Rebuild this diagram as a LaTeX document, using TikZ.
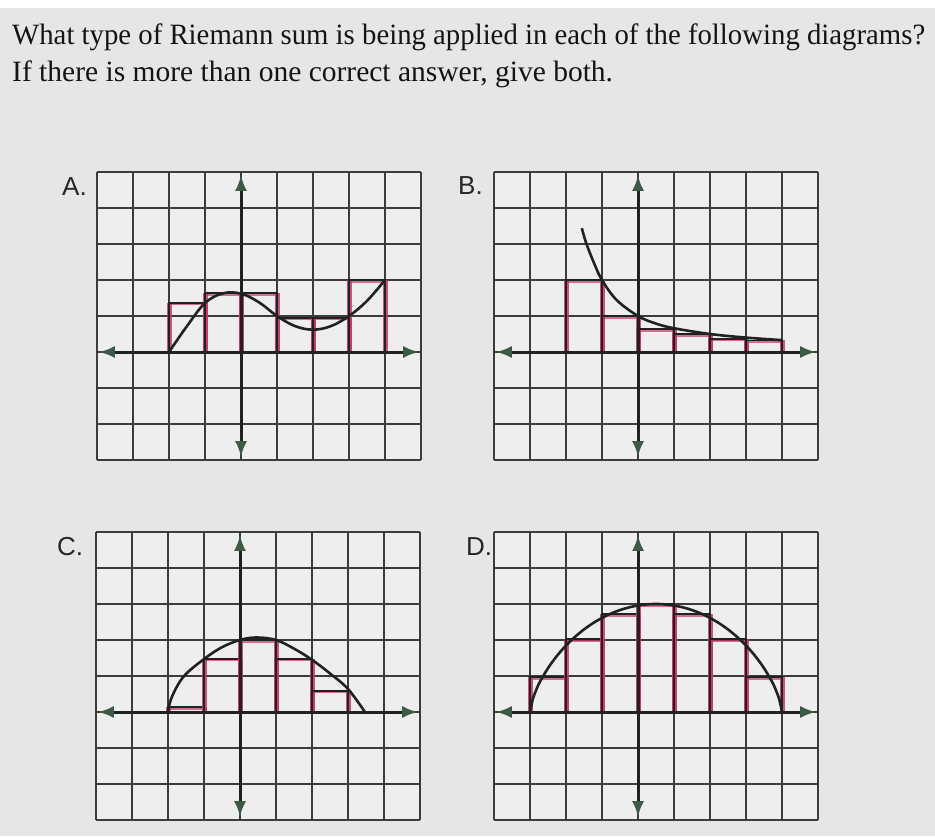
\documentclass[tikz,border=0pt]{standalone}
\usepackage{fontspec}
\setmainfont{Liberation Serif}
\newfontfamily\labelfont{Liberation Sans}
\usetikzlibrary{arrows.meta}
\definecolor{bg}{RGB}{230,230,230}
\definecolor{gridbg}{RGB}{238,238,238}
\definecolor{gridc}{RGB}{60,60,60}
\definecolor{axgreen}{RGB}{60,90,70}
\definecolor{pinkc}{RGB}{200,55,100}
\definecolor{inkc}{RGB}{30,35,32}
\newcommand{\panelgrid}{%
  \fill[gridbg] (-4,-3) rectangle (5,5);
  \foreach \i in {-4,...,5} \draw[gridline] (\i,-3) -- (\i,5);
  \foreach \j in {-3,...,5} \draw[gridline] (-4,\j) -- (5,\j);
}
\newcommand{\panelaxes}{%
  \draw[axisline] (-3.95,0) -- (4.95,0);
  \draw[axisline] (0,-2.92) -- (0,4.92);
}
\newcommand{\rbox}[3]{%
  \draw[rpink] (#1,0) -- (#1,#3);
  \draw[rpink] (#2,0) -- (#2,#3);
  \draw[rpinktop] (#1,#3-0.03) -- (#2,#3-0.03);
  \draw[rdark] (#1,0) rectangle (#2,#3);
}
\begin{document}
\begin{tikzpicture}[x=1pt,y=-1pt,
  gridline/.style={draw=gridc,line width=1.8pt},
  axisline/.style={draw=inkc,line width=3pt,arrows={Latex[length=16pt,width=12pt,color=axgreen]-Latex[length=16pt,width=12pt,color=axgreen]}},
  curveline/.style={draw=inkc,line width=2.6pt},
  rpink/.style={draw=pinkc,line width=5pt,opacity=0.85},
  rpinktop/.style={draw=pinkc,line width=3pt,opacity=0.7},
  rdark/.style={draw=inkc,line width=1.9pt},
  panellabel/.style={font=\labelfont\fontsize{26}{30}\selectfont,anchor=base west,inner sep=0pt,text=black!85},
  title/.style={font=\fontsize{29.5}{34}\selectfont,anchor=base west,inner sep=0pt,text=black!92}]
\fill[white] (0,0) rectangle (935,836);
\fill[bg] (0,8) rectangle (935,836);
\useasboundingbox (0,0) rectangle (935,836);
\node[title] (q1) at (12,44) {\scalebox{0.975}[1]{What type of Riemann sum is being applied in each of the following diagrams?}};
\node[title] (q2) at (12,81) {If there is more than one correct answer, give both.};
\node[panellabel] (la) at (62,195) {A.};
\node[panellabel] (lb) at (458,194) {B.};
\node[panellabel] (lc) at (57,555) {C.};
\node[panellabel] (ld) at (466,555) {D.};
% A
\begin{scope}[shift={(241pt,-352pt)},x=36pt,y=36pt]
  \panelgrid
  \rbox{-2}{-1}{1.37}\rbox{-1}{0}{1.64}\rbox{0}{1}{1.64}
  \rbox{1}{2}{0.95}\rbox{2}{3}{0.95}\rbox{3}{4}{2.0}
  \draw[curveline] plot[smooth,tension=0.6] coordinates {(-2,0) (-1.5,0.72) (-1,1.36) (-0.5,1.63) (0,1.62) (0.5,1.38) (1,1.0) (1.5,0.72) (2,0.62) (2.5,0.72) (3,1.0) (3.5,1.42) (4,2.0)};
  \panelaxes
\end{scope}
% B
\begin{scope}[shift={(638pt,-352pt)},x=36pt,y=36pt]
  \panelgrid
  \rbox{-2}{-1}{2.0}\rbox{-1}{0}{1.0}\rbox{0}{1}{0.63}
  \rbox{1}{2}{0.49}\rbox{2}{3}{0.37}\rbox{3}{4}{0.32}
  \draw[curveline] plot[smooth,tension=0.6] coordinates {(-1.56,3.44) (-1.43,3.0) (-1.2,2.42) (-1,2.0) (-0.6,1.45) (0,1.0) (0.5,0.79) (1,0.66) (2,0.5) (3,0.4) (4,0.33)};
  \panelaxes
\end{scope}
% C
\begin{scope}[shift={(240pt,-712pt)},x=36pt,y=36pt]
  \panelgrid
  \rbox{-2}{-1}{0.14}\rbox{-1}{0}{1.48}\rbox{0}{1}{2.0}
  \rbox{1}{2}{1.48}\rbox{2}{3}{0.59}
  \draw[curveline] plot[smooth,tension=0.6] coordinates {(-2,0) (-1.9,0.4) (-1.57,0.98) (-1,1.47) (-0.5,1.8) (0,2.0) (0.46,2.07) (1,2.0) (1.5,1.76) (2,1.45) (2.5,1.07) (3,0.64) (3.47,0)};
  \panelaxes
\end{scope}
% D
\begin{scope}[shift={(638pt,-712pt)},x=36pt,y=36pt]
  \panelgrid
  \rbox{-3}{-2}{0.96}\rbox{-2}{-1}{2.02}\rbox{-1}{0}{2.72}\rbox{0}{1}{3.0}
  \rbox{1}{2}{2.72}\rbox{2}{3}{2.02}\rbox{3}{4}{0.96}
  \draw[curveline] plot[domain=-3:4,samples=90,smooth] (\x,{3*pow(max(1-((\x-0.5)/3.5)^2,0.0001),0.68)});
  \panelaxes
\end{scope}
\end{tikzpicture}
\end{document}
